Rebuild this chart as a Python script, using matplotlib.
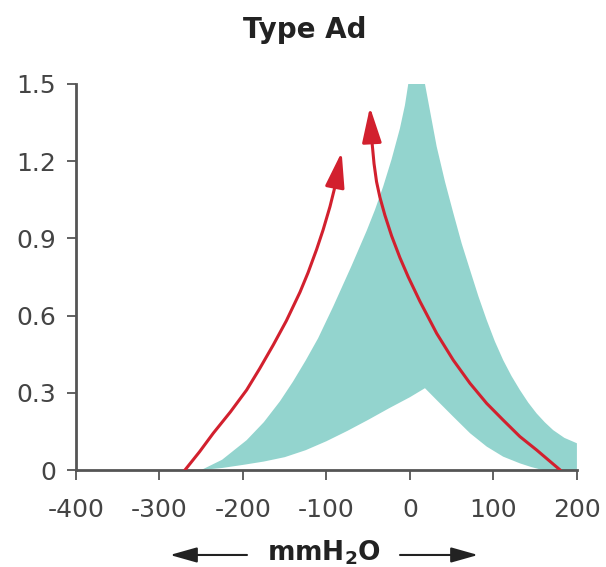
"""Type Ad tympanogram: normal range band with two hypermobile curves."""

import matplotlib

matplotlib.use("Agg")
import matplotlib.pyplot as plt
from matplotlib.patches import FancyArrowPatch

# normal compliance range (teal band), traced as a closed outline
band_upper_x = [-250, -225, -195.6, -175, -155.7, -140, -125, -110, -91.8, -70, -51.9, -42, -32, -22, -12, -6, -2,
                18, 32, 42, 52, 62, 72, 82, 91.9, 101.7, 111.7, 121.7, 131.7, 141.7, 151.7, 161.7, 171.6, 185, 200]
band_upper_y = [0.0, 0.04, 0.116, 0.186, 0.267, 0.344, 0.425, 0.512, 0.636, 0.793, 0.929, 1.01, 1.102, 1.207, 1.327, 1.417, 1.5,
                1.5, 1.257, 1.12, 0.998, 0.88, 0.777, 0.675, 0.583, 0.5, 0.427, 0.365, 0.311, 0.262, 0.22, 0.185, 0.155, 0.125, 0.104]
band_lower_x = [200, 159, 145, 131.7, 111.7, 92, 72, 52, 32, 18, 0, -25, -50, -75, -100, -125, -150, -175, -200, -225]
band_lower_y = [0.0, 0.0, 0.012, 0.026, 0.052, 0.091, 0.143, 0.207, 0.272, 0.318, 0.283, 0.24, 0.195, 0.152, 0.112, 0.077, 0.05, 0.033, 0.02, 0.008]

# red curves, from the baseline to the arrow base, then the arrow tip
left_x = [-269.5, -252, -235.6, -215, -195.6, -180, -163.7, -148, -131.7, -122, -111.8, -104, -95.8, -89.8, -81.8]
left_y = [0.0, 0.071, 0.143, 0.226, 0.311, 0.394, 0.486, 0.58, 0.691, 0.767, 0.857, 0.933, 1.023, 1.101, 1.235]
right_x = [180, 151.7, 131.7, 111.7, 91.9, 71.9, 51.9, 32, 12, -2, -12, -22, -30, -36, -40, -43, -45.9, -47.9]
right_y = [0.0, 0.078, 0.13, 0.194, 0.259, 0.337, 0.427, 0.531, 0.655, 0.75, 0.825, 0.91, 0.99, 1.06, 1.12, 1.19, 1.29, 1.41]

x_ticks = [-400, -300, -200, -100, 0, 100, 200]
y_ticks = [0, 0.3, 0.6, 0.9, 1.2, 1.5]
y_labels = ["0", "0.3", "0.6", "0.9", "1.2", "1.5"]

TEAL = "#93d4ce"
RED = "#d2202e"
AXIS = "#555555"

fig = plt.figure(figsize=(6.06, 5.67), dpi=100)
ax = fig.add_axes([0.1254, 0.171, 0.8266, 0.681])

ax.fill(
    band_upper_x + band_lower_x,
    band_upper_y + band_lower_y,
    color=TEAL,
    linewidth=0,
    zorder=1,
)

for xs, ys in [(left_x, left_y), (right_x, right_y)]:
    ax.plot(xs[:-1], ys[:-1], color=RED, linewidth=2.2, solid_capstyle="round",
            solid_joinstyle="round", zorder=3)
    ax.annotate(
        "",
        xy=(xs[-1], ys[-1]),
        xytext=(xs[-2], ys[-2]),
        arrowprops=dict(
            arrowstyle="-|>,head_length=1.2,head_width=0.33",
            color=RED,
            linewidth=2.2,
            mutation_scale=18,
            shrinkA=0,
            shrinkB=0,
        ),
        zorder=4,
    )

ax.set_xlim(-400, 200)
ax.set_ylim(0, 1.5)
ax.set_xticks(x_ticks)
ax.set_xticklabels([str(v) for v in x_ticks])
ax.set_yticks(y_ticks)
ax.set_yticklabels(y_labels)

for side in ["top", "right"]:
    ax.spines[side].set_visible(False)
for side in ["left", "bottom"]:
    ax.spines[side].set_color(AXIS)
    ax.spines[side].set_linewidth(2)
ax.tick_params(axis="both", colors=AXIS, labelcolor="#444444", labelsize=18, width=1.3)
ax.tick_params(axis="x", length=7, pad=13)
ax.tick_params(axis="y", length=6.5, pad=8)

fig.text(0.503, 0.947, "Type Ad", ha="center", va="center", fontsize=20,
         fontweight="bold", color="#222222")
fig.text(0.535, 0.0123, r"mmH$_\mathbf{2}$O", ha="center", va="baseline",
         fontsize=19, fontweight="bold", color="#222222")

# direction arrows either side of the unit label
for x0, x1 in [(247 / 606, 170 / 606), (400 / 606, 478 / 606)]:
    fig.add_artist(
        FancyArrowPatch(
            (x0, 0.0212),
            (x1, 0.0212),
            transform=fig.transFigure,
            arrowstyle="-|>,head_length=0.92,head_width=0.26",
            mutation_scale=18,
            color="#222222",
            linewidth=1.5,
            shrinkA=0,
            shrinkB=0,
        )
    )

fig.savefig("out.png", dpi=100)
